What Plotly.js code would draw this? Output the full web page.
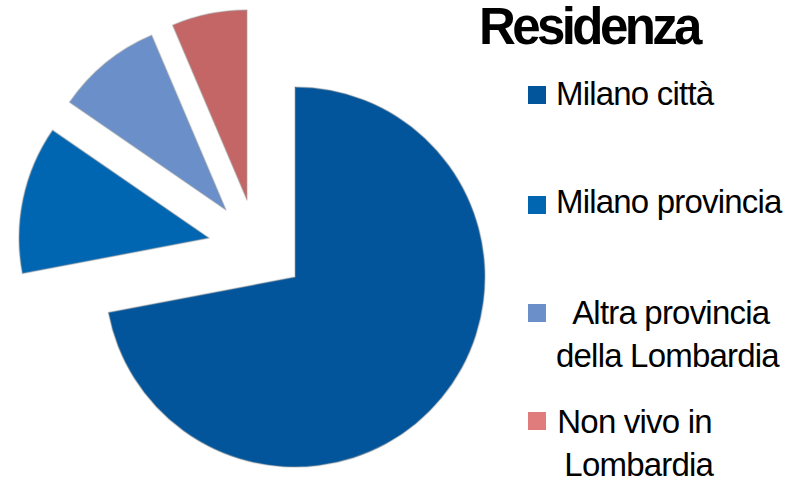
<!DOCTYPE html>
<html>
<head>
<meta charset="utf-8">
<script src="https://cdn.plot.ly/plotly-3.0.1.min.js"></script>
<style>
html,body{margin:0;padding:0;background:#fff;}
text.annotation-text{letter-spacing:-0.8px;}
text.annotation-text[style*="51px"]{letter-spacing:-3.6px;}
</style>
</head>
<body>
<div id="chart" style="width:792px;height:478px;"></div>
<script>
// ---- data ----
const labels = ['Milano città', 'Milano provincia', 'Altra provincia della Lombardia', 'Non vivo in Lombardia'];
const values = [72.0, 12.6, 9.0, 6.4];
const legendTitle = 'Residenza';
const legendText = ['Milano città', 'Milano provincia', ' Altra provincia<br>della Lombardia', 'Non vivo in<br> Lombardia'];
const sliceColors = ['#02559A', '#0166B2', '#6A8FC9', '#C46566'];
const legendColors = ['#02559A', '#0166B2', '#6A8FC9', '#E07C7C'];

// ---- layout helpers (pixel geometry) ----
const W = 792, H = 478, R = 190;
// centre of each (exploded) slice, in pixels
const centres = [[295, 277], [209, 238], [226, 210], [247, 200]];
function dom(cx, cy, r) {
  return {x: [(cx - r) / W, (cx + r) / W], y: [1 - (cy + r) / H, 1 - (cy - r) / H]};
}
const clear = 'rgba(0,0,0,0)';

const traces = centres.map((c, i) => ({
  type: 'pie',
  labels: labels,
  values: values,
  sort: false,
  direction: 'clockwise',
  rotation: 0,
  textinfo: 'none',
  hoverinfo: 'label+percent',
  showlegend: false,
  domain: dom(c[0], c[1], R),
  marker: {
    colors: sliceColors.map((col, j) => j === i ? col : clear),
    line: {
      color: sliceColors.map((col, j) => j === i ? 'rgba(160,160,160,0.45)' : clear),
      width: sliceColors.map((col, j) => j === i ? 1.5 : 0)
    }
  }
}));

const legendFont = {family: 'Liberation Sans, Arial, sans-serif', size: 33, color: '#000'};
const itemTop = [86, 196, 304, 412];   // marker top (px)
const itemMid = [93, 202, 334, 443];   // text block middle (px)

const shapes = legendColors.map((col, i) => ({
  type: 'rect', xref: 'paper', yref: 'paper',
  x0: 528 / W, x1: 546 / W, y0: 1 - (itemTop[i] + 18) / H, y1: 1 - itemTop[i] / H,
  fillcolor: col, line: {width: 0}
}));

const annotations = [{
  text: '<b>' + legendTitle + '</b>', xref: 'paper', yref: 'paper',
  x: 477 / W, y: 1 - 27 / H, xanchor: 'left', yanchor: 'middle', showarrow: false,
  font: {family: 'Liberation Sans, Arial, sans-serif', size: 51, color: '#000'}
}].concat(legendText.map((t, i) => ({
  text: t, xref: 'paper', yref: 'paper',
  x: 554 / W, y: 1 - itemMid[i] / H, xanchor: 'left', yanchor: 'middle', align: 'center',
  showarrow: false, font: legendFont
})));

Plotly.newPlot('chart', traces, {
  width: W, height: H,
  margin: {l: 0, r: 0, t: 0, b: 0},
  paper_bgcolor: '#fff',
  showlegend: false,
  shapes: shapes,
  annotations: annotations
}, {displayModeBar: false, staticPlot: true});
</script>
</body>
</html>
